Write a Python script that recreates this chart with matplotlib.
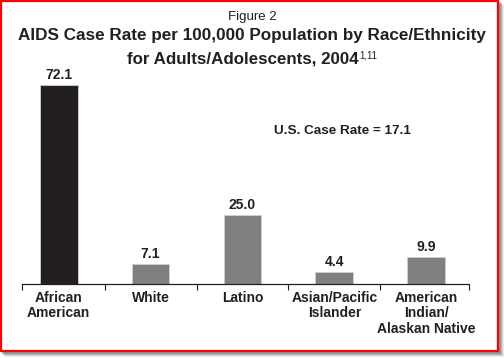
import matplotlib.pyplot as plt
from matplotlib.patches import Rectangle

plt.rcParams['font.family'] = ['Liberation Sans', 'DejaVu Sans']

groups = ["African\nAmerican", "White", "Latino", "Asian/Pacific\nIslander",
          "American\nIndian/\nAlaskan Native"]
rates = [72.1, 7.1, 25.0, 4.4, 9.9]
bar_colors = ["#231f20", "#808083", "#808083", "#808083", "#808083"]
us_rate = 17.1

W, H = 504, 358
dark = "#231f20"
fig = plt.figure(figsize=(W / 100, H / 100), dpi=100)

# soft drop shadow, then the red frame
for off, a in [(5, 0.12), (4, 0.2), (3, 0.3), (2, 0.45)]:
    fig.patches.append(Rectangle((off / W, (6 - off) / H), 499 / W, 352 / H,
                                 transform=fig.transFigure, facecolor="#707070",
                                 alpha=a, edgecolor="none", zorder=0))
fig.patches.append(Rectangle((1 / W, 7 / H), 497 / W, 350 / H,
                             transform=fig.transFigure, facecolor="white",
                             edgecolor="#ff0000", linewidth=1.6, zorder=1))

ax = fig.add_axes([22 / W, (H - 284) / H, 447 / W, 220.8 / H])
ax.set_zorder(2)
ax.patch.set_visible(False)
x = range(len(groups))
ax.bar(x, rates, width=0.41, color=bar_colors, edgecolor="#d0d0d0", linewidth=0.6)
for xi, v in zip(x, rates):
    ax.text(xi, v + 2.2, f"{v:.1f}", ha="center", va="baseline",
            fontsize=10, fontweight="bold", color=dark)

left, right = -0.40, len(groups) - 0.534
ax.set_xlim(left, right)
ax.set_ylim(0, 80)
ax.set_yticks([])
ax.set_xticks([left] + [i + 0.5 for i in range(len(groups) - 1)] + [right])
ax.set_xticklabels([])
ax.tick_params(axis="x", length=4, width=0.8, color=dark, direction="out")
for xi, g in zip(x, groups):
    ax.text(xi, -2.4, g, ha="center", va="top", fontsize=10, fontweight="bold",
            color=dark, linespacing=1.15)
for s in ["top", "left", "right"]:
    ax.spines[s].set_visible(False)
ax.spines["bottom"].set_color(dark)
ax.spines["bottom"].set_linewidth(0.9)

ax.text(2.34, 55.5, f"U.S. Case Rate = {us_rate}", ha="left", va="center",
        fontsize=9.7, fontweight="bold", color=dark)

fig.text(0.5, 1 - 20 / H, "Figure 2", ha="center", va="baseline", fontsize=9.5,
         color=dark)
fig.text(0.5, 1 - 40 / H, "AIDS Case Rate per 100,000 Population by Race/Ethnicity",
         ha="center", va="baseline", fontsize=12.35, fontweight="bold", color=dark)

# second title line with a small superscript, centred as one piece
main = fig.text(0, 1 - 63 / H, "for Adults/Adolescents, 2004", ha="left",
                va="baseline", fontsize=12.2, fontweight="bold", color=dark)
sup = fig.text(0, 1 - 58 / H, "1,11", ha="left", va="baseline", fontsize=7,
               color=dark)
r = fig.canvas.get_renderer()
w_main = main.get_window_extent(r).width
w_sup = sup.get_window_extent(r).width
x0 = (W - w_main - w_sup - 1) / 2
main.set_x(x0 / W)
sup.set_x((x0 + w_main + 1) / W)

fig.savefig("out.png", dpi=100)
